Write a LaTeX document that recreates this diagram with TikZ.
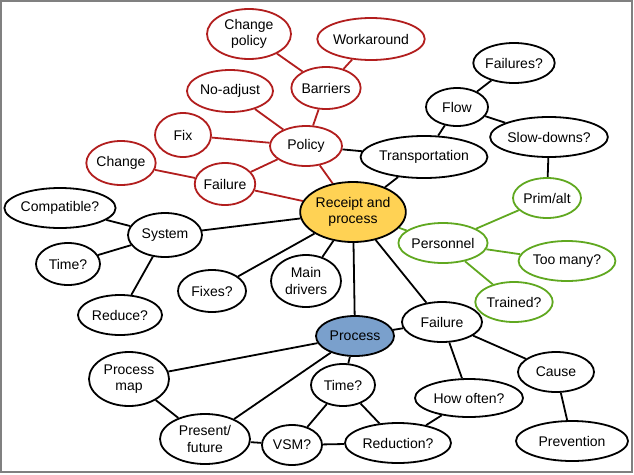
\documentclass[tikz,border=0pt]{standalone}
\usepackage{fontspec}
\setmainfont{Liberation Sans}
\usepackage{tikz}
\usetikzlibrary{shapes.geometric,backgrounds}
\definecolor{T1}{RGB}{178,30,30}
\definecolor{G1}{RGB}{96,168,32}
\definecolor{Y1}{RGB}{255,210,84}
\definecolor{B1}{RGB}{122,160,204}
\definecolor{F1}{RGB}{128,128,128}

\begin{document}
\begin{tikzpicture}[x=1pt, y=-1pt,
  topic/.style={ellipse, draw, line width=1.8pt, fill=white, inner sep=0pt,
                font=\fontsize{14}{16.5}\selectfont, align=center},
  redtopic/.style={topic, draw=T1},
  greentopic/.style={topic, draw=G1},
  sz/.style 2 args={minimum width=#1pt, minimum height=#2pt},
  link/.style={line width=1.8pt},
  redlink/.style={link, draw=T1},
  greenlink/.style={link, draw=G1},
]
\useasboundingbox (0,0) rectangle (634,474);
\draw[F1, line width=2pt] (1,1) rectangle (632,472);

% centre
\node[topic, fill=Y1, sz={100}{60}] (rcpt) at (353,212) {Receipt and\\process};

% policy branch
\node[redtopic, sz={84}{50}] (cpol) at (249,34) {Change\\policy};
\node[redtopic, sz={100}{42}] (work) at (371,39) {Workaround};
\node[redtopic, sz={66}{42}] (barr) at (326,88) {Barriers};
\node[redtopic, sz={86}{42}] (noadj) at (230,91) {No-adjust};
\node[redtopic, sz={56}{44}] (fix) at (183,135) {Fix};
\node[redtopic, sz={72}{40}] (pol) at (306,146) {Policy};
\node[redtopic, sz={66}{44}] (chg) at (121,163) {Change};
\node[redtopic, sz={58}{42}] (rfail) at (225,184) {Failure};

% transportation branch
\node[topic, sz={118}{42}] (trans) at (424,157) {Transportation};
\node[topic, sz={62}{38}] (flow) at (457,107) {Flow};
\node[topic, sz={78}{40}] (fails) at (514,63) {Failures?};
\node[topic, sz={110}{40}] (slow) at (549,137) {Slow-downs?};

% personnel branch
\node[greentopic, sz={68}{40}] (prim) at (547,198) {Prim/alt};
\node[greentopic, sz={84}{40}] (pers) at (443,243) {Personnel};
\node[greentopic, sz={92}{40}] (many) at (567,261) {Too many?};
\node[greentopic, sz={74}{40}] (train) at (514,302) {Trained?};

% system branch
\node[topic, sz={104}{40}] (comp) at (60,208) {Compatible?};
\node[topic, sz={74}{44}] (sys) at (165,235) {System};
\node[topic, sz={64}{42}] (ltime) at (68,264) {Time?};
\node[topic, sz={84}{40}] (redu) at (120,315) {Reduce?};
\node[topic, sz={68}{42}] (fixes) at (212,291) {Fixes?};
\node[topic, sz={70}{52}] (main) at (306,281) {Main\\drivers};

% process branch
\node[topic, fill=B1, sz={78}{40}] (proc) at (355,336) {Process};
\node[topic, sz={80}{40}] (fail) at (442,322) {Failure};
\node[topic, sz={108}{38}] (often) at (469,398) {How often?};
\node[topic, sz={76}{40}] (cause) at (556,372) {Cause};
\node[topic, sz={112}{40}] (prev) at (572,441) {Prevention};
\node[topic, sz={64}{42}] (btime) at (343,385) {Time?};
\node[topic, sz={106}{40}] (reduc) at (398,443) {Reduction?};
\node[topic, sz={60}{40}] (vsm) at (292,445) {VSM?};
\node[topic, sz={90}{50}] (pf) at (205,439) {Present/\\future};
\node[topic, sz={80}{54}] (pmap) at (129,379) {Process\\map};

\begin{scope}[on background layer]
\draw[redlink] (cpol) -- (barr);
\draw[redlink] (work) -- (barr);
\draw[redlink] (barr) -- (pol);
\draw[redlink] (noadj) -- (pol);
\draw[redlink] (fix) -- (pol);
\draw[redlink] (pol) -- (rfail);
\draw[redlink] (chg) -- (rfail);
\draw[redlink] (rfail) -- (rcpt);
\draw[redlink] (pol) -- (rcpt);

\draw[link] (pol) -- (trans);
\draw[link] (trans) -- (rcpt);
\draw[link] (trans) -- (flow);
\draw[link] (flow) -- (fails);
\draw[link] (flow) -- (slow);
\draw[link] (slow) -- (prim);

\draw[greenlink] (prim) -- (pers);
\draw[greenlink] (pers) -- (rcpt);
\draw[greenlink] (pers) -- (many);
\draw[greenlink] (pers) -- (train);

\draw[link] (rcpt) -- (sys);
\draw[link] (sys) -- (comp);
\draw[link] (sys) -- (ltime);
\draw[link] (sys) -- (redu);
\draw[link] (rcpt) -- (fixes);
\draw[link] (rcpt) -- (main);
\draw[link] (rcpt) -- (proc);
\draw[link] (rcpt) -- (fail);

\draw[link] (proc) -- (fail);
\draw[link] (fail) -- (often);
\draw[link] (fail) -- (cause);
\draw[link] (cause) -- (prev);
\draw[link] (proc) -- (pmap);
\draw[link] (proc) -- (pf);
\draw[link] (proc) -- (btime);
\draw[link] (pmap) -- (pf);
\draw[link] (pf) -- (vsm);
\draw[link] (vsm) -- (btime);
\draw[link] (btime) -- (reduc);
\draw[link] (vsm) -- (reduc);
\draw[link] (often) -- (reduc);
\end{scope}
\end{tikzpicture}
\end{document}
